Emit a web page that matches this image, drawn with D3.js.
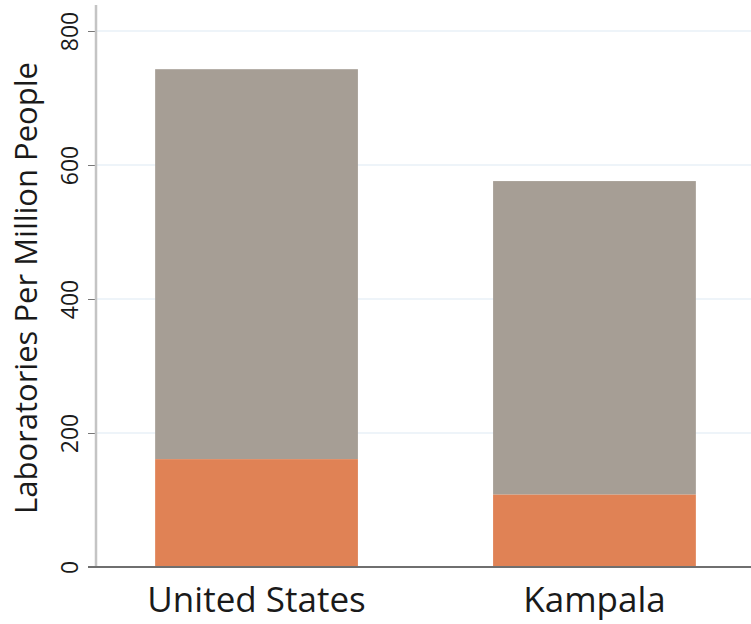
<!DOCTYPE html>
<html>
<head>
<meta charset="utf-8">
<script src="https://cdn.jsdelivr.net/npm/d3@7"></script>
<style>
  body { margin: 0; background: #fff; }
  text { font-family: "Open Sans", sans-serif; fill: #1a1a1a; }
</style>
</head>
<body>
<div id="chart"></div>
<script>
// data
var categories = ["United States", "Kampala"];
var lowerValues = [161, 108];   // orange part
var totalValues = [743, 576];   // top of grey part
var yTicks = [0, 200, 400, 600, 800];

var width = 751, height = 624;
var margin = {top: 5, right: 0, bottom: 57, left: 96};

var svg = d3.select("#chart").append("svg")
    .attr("width", width)
    .attr("height", height);

var x = d3.scaleBand()
    .domain(categories)
    .range([margin.left, 755])
    .paddingInner(0.4)
    .paddingOuter(0.175);

var y = d3.scaleLinear()
    .domain([0, 800])
    .range([567, 31]);

/* grid lines */
svg.append("g")
    .selectAll("line")
    .data(yTicks.filter(d => d > 0))
    .enter().append("line")
    .attr("x1", margin.left)
    .attr("x2", width)
    .attr("y1", d => y(d))
    .attr("y2", d => y(d))
    .style("stroke", "#e8f0f7")
    .style("stroke-width", 1.5);

/* bars */
var rows = categories.map((c, i) => ({name: c, low: lowerValues[i], total: totalValues[i]}));

svg.append("g").selectAll("rect")
    .data(rows).enter()
    .append("rect")
    .attr("x", d => x(d.name))
    .attr("width", x.bandwidth())
    .attr("y", d => y(d.total))
    .attr("height", d => y(d.low) - y(d.total))
    .style("fill", "#a69e95");

svg.append("g").selectAll("rect")
    .data(rows).enter()
    .append("rect")
    .attr("x", d => x(d.name))
    .attr("width", x.bandwidth())
    .attr("y", d => y(d.low))
    .attr("height", d => y(0) - y(d.low))
    .style("fill", "#e08255");

/* y axis */
var yAxis = d3.axisLeft(y).tickValues(yTicks).tickSize(8).tickPadding(12);
var gy = svg.append("g")
    .attr("transform", `translate(${margin.left},0)`)
    .call(yAxis);
gy.select(".domain").remove();
gy.selectAll(".tick line").style("stroke", "#777").style("stroke-width", 1);
gy.append("line")
    .attr("x1", 0).attr("x2", 0)
    .attr("y1", 5).attr("y2", y(0))
    .style("stroke", "#c4c4c4")
    .style("stroke-width", 2.5);
gy.selectAll(".tick text")
    .attr("x", null).attr("dy", null)
    .attr("transform", "translate(-26,0) rotate(-90)")
    .attr("text-anchor", "middle")
    .attr("dy", "0.35em")
    .style("font-size", "23px")
    .style("font-family", "'Open Sans', sans-serif")
    .style("fill", "#1a1a1a");

/* x axis */
var xAxis = d3.axisBottom(x).tickSize(0).tickPadding(0);
var gx = svg.append("g")
    .attr("transform", `translate(0,${y(0)})`)
    .call(xAxis);
gx.select(".domain").remove();
gx.append("line")
    .attr("x1", 88).attr("x2", width)
    .style("stroke", "#6f6f6f")
    .style("stroke-width", 2);
gx.selectAll(".tick text")
    .attr("dy", null)
    .attr("y", 45)
    .style("font-size", "35px")
    .style("font-family", "'Open Sans', sans-serif")
    .style("fill", "#1a1a1a");

/* y title */
svg.append("text")
    .attr("transform", "translate(37,288) rotate(-90)")
    .attr("text-anchor", "middle")
    .style("font-size", "31px")
    .text("Laboratories Per Million People");
</script>
</body>
</html>
